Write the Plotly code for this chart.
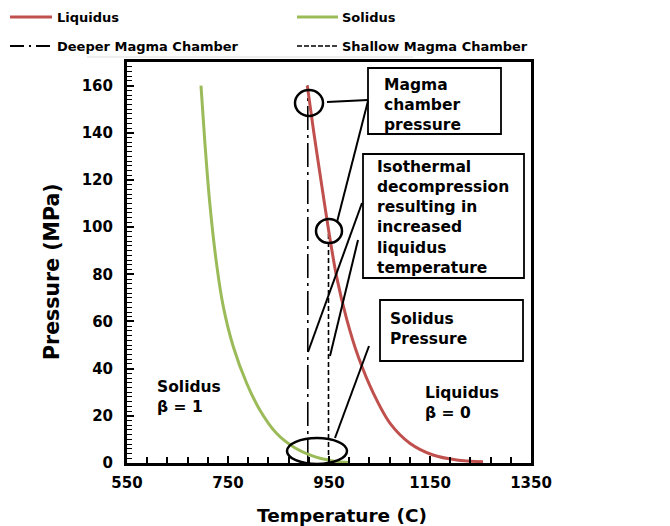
import plotly.graph_objects as go

# ---- data ----
liquidus_T = [907, 920, 934, 949, 965, 985, 1008, 1038, 1071, 1110, 1156, 1203, 1255]
liquidus_P = [160, 140, 120, 99, 79, 61, 45, 29.5, 16.8, 8.4, 3.4, 1.3, 0.5]
solidus_T = [696.5, 704.5, 714, 727.6, 740.7, 760.5, 787, 813, 846, 879, 912, 932, 960, 991]
solidus_P = [160, 135, 110, 84, 66.3, 49.3, 33.8, 22.5, 12.6, 6.9, 3.4, 2.0, 0.8, 0.2]
deeper_T = [908, 908]
deeper_P = [0, 160]
shallow_T = [949, 949]
shallow_P = [0, 98]

x_ticks = [550, 750, 950, 1150, 1350]
y_ticks = [0, 20, 40, 60, 80, 100, 120, 140, 160]

RED = "#C0504D"
GREEN = "#9BBB59"
FONT = "DejaVu Sans"

# plot area in pixels
W, H = 670, 526
L, R, T, B = 127, 531, 62, 463


def fx(px):
    return (px - L) / (R - L)


def fy(py):
    return (B - py) / (B - T)


fig = go.Figure()
fig.add_trace(go.Scatter(x=deeper_T, y=deeper_P, mode="lines",
                         line=dict(color="black", width=1.6, dash="24px,5px,3px,5px"),
                         showlegend=False, hoverinfo="skip"))
fig.add_trace(go.Scatter(x=shallow_T, y=shallow_P, mode="lines",
                         line=dict(color="black", width=1.6, dash="5px,3px"),
                         showlegend=False, hoverinfo="skip"))
fig.add_trace(go.Scatter(x=liquidus_T, y=liquidus_P, mode="lines",
                         line=dict(color=RED, width=3, shape="spline", smoothing=0.8),
                         showlegend=False))
fig.add_trace(go.Scatter(x=solidus_T, y=solidus_P, mode="lines",
                         line=dict(color=GREEN, width=3, shape="spline", smoothing=0.8),
                         showlegend=False))

shapes = []
annotations = []


def pline(x0, y0, x1, y1, color="black", width=2, dash=None):
    d = dict(type="line", xref="paper", yref="paper",
             x0=fx(x0), y0=fy(y0), x1=fx(x1), y1=fy(y1),
             line=dict(color=color, width=width))
    if dash:
        d["line"]["dash"] = dash
    shapes.append(d)


def prect(x0, y0, x1, y1):
    shapes.append(dict(type="rect", xref="paper", yref="paper",
                       x0=fx(x0), y0=fy(y0), x1=fx(x1), y1=fy(y1),
                       line=dict(color="black", width=1.8), fillcolor="white", layer="above"))


def pellipse(cx, cy, rx, ry):
    shapes.append(dict(type="circle", xref="paper", yref="paper",
                       x0=fx(cx - rx), y0=fy(cy - ry), x1=fx(cx + rx), y1=fy(cy + ry),
                       line=dict(color="black", width=2.5)))


def ptext(x, y, text, size=15.5, xanchor="left"):
    annotations.append(dict(xref="paper", yref="paper", x=fx(x), y=fy(y),
                            text=text, showarrow=False, xanchor=xanchor, yanchor="middle",
                            align="left",
                            font=dict(family=FONT, size=size, color="black", weight="bold")))


# legend
pline(10, 17, 52, 17, RED, 3)
ptext(55, 17, "Liquidus", 13)
pline(297, 17, 338, 17, GREEN, 3)
ptext(340, 17, "Solidus", 13)
pline(10, 46, 52, 46, "black", 1.8, "14px,5px,2px,5px")
ptext(55, 46, "Deeper Magma Chamber", 13)
pline(297, 46, 338, 46, "black", 1.5, "5px,2px")
ptext(340, 46, "Shallow Magma Chamber", 13)
pline(87, 57, 413, 57, "#dddddd", 1)

# boxes
prect(368, 68, 501, 134)
ptext(382, 104.5, "Magma<br>chamber<br>pressure")
prect(363, 154, 524, 278)
ptext(375, 217.5, "Isothermal<br>decompression<br>resulting in<br>increased<br>liquidus<br>temperature")
prect(380, 300, 523, 361)
ptext(388, 328.5, "Solidus<br>Pressure")

# ellipses
pellipse(309, 103, 14, 13)
pellipse(329, 231, 13, 12)
pellipse(317, 451, 30, 13)

# connectors
pline(327, 102, 368, 100)
pline(368, 101, 337, 222)
pline(362, 203, 308, 352)
pline(358, 240, 330, 356)
pline(369, 346, 335, 438)

# region labels
ptext(155, 396.5, "Solidus<br>β = 1")
ptext(423, 402.5, "Liquidus<br>β = 0")

# axis titles
annotations.append(dict(xref="paper", yref="paper", x=fx(342), y=fy(515),
                        text="Temperature (C)", showarrow=False, xanchor="center", yanchor="middle",
                        font=dict(family=FONT, size=18.5, color="black", weight="bold")))
annotations.append(dict(xref="paper", yref="paper", x=fx(52), y=fy(272),
                        text="Pressure (MPa)", showarrow=False, xanchor="center", yanchor="middle",
                        textangle=-90,
                        font=dict(family=FONT, size=20.5, color="black", weight="bold")))

fig.update_layout(
    width=W, height=H,
    margin=dict(l=L, r=W - R, t=T, b=H - B),
    plot_bgcolor="white", paper_bgcolor="white",
    shapes=shapes, annotations=annotations,
    showlegend=False,
    xaxis=dict(range=[x_ticks[0], x_ticks[-1]], tickmode="linear",
               tick0=x_ticks[0], dtick=x_ticks[1] - x_ticks[0],
               showgrid=False, zeroline=False,
               showline=True, linecolor="black", linewidth=3, mirror=True,
               ticks="inside", ticklen=7, tickwidth=2, tickcolor="black",
               minor=dict(tickmode="linear", tick0=550, dtick=40, ticks="inside",
                          ticklen=6, tickwidth=2, tickcolor="black", showgrid=False),
               tickfont=dict(family=FONT, size=15, color="black", weight="bold"),
               ticklabelstandoff=4),
    yaxis=dict(range=[0, 170], tickmode="linear",
               tick0=y_ticks[0], dtick=y_ticks[1] - y_ticks[0],
               showgrid=False, zeroline=False,
               showline=True, linecolor="black", linewidth=3, mirror=True,
               ticks="inside", ticklen=7, tickwidth=2, tickcolor="black",
               minor=dict(tickmode="linear", tick0=0, dtick=2, ticks="inside",
                          ticklen=5, tickwidth=1, tickcolor="black", showgrid=False),
               tickfont=dict(family=FONT, size=15, color="black", weight="bold"),
               ticklabelstandoff=8),
)

fig.write_html("out.html")
